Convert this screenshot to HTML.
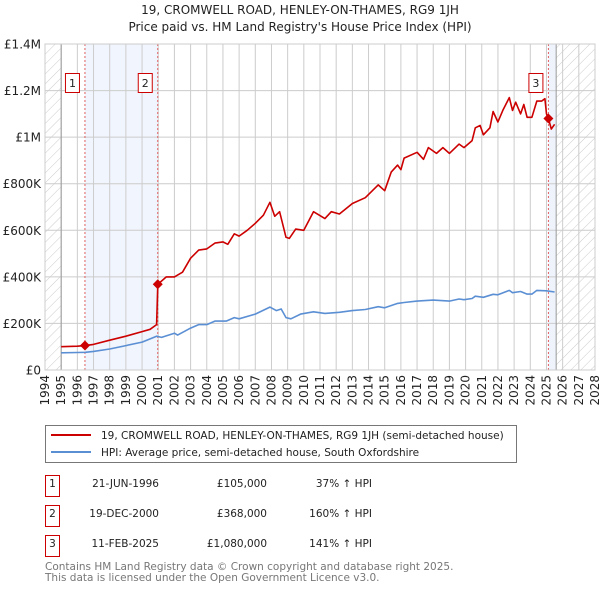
<!DOCTYPE html>
<html><head><meta charset="utf-8"><style>
body{margin:0;background:#fff;font-family:"DejaVu Sans","Liberation Sans",sans-serif;}
svg{display:block}
</style></head><body>
<svg width="600" height="590" viewBox="0 0 600 590" xmlns="http://www.w3.org/2000/svg" font-family="DejaVu Sans, Liberation Sans, sans-serif">
<defs>
<pattern id="hatch" width="7" height="7" patternUnits="userSpaceOnUse" patternTransform="rotate(45)">
<line x1="0" y1="0" x2="0" y2="7" stroke="#ccc" stroke-width="1"/></pattern>
</defs>
<text x="300" y="14" text-anchor="middle" font-size="12" fill="#222">19, CROMWELL ROAD, HENLEY-ON-THAMES, RG9 1JH</text>
<text x="300" y="31" text-anchor="middle" font-size="12" fill="#222">Price paid vs. HM Land Registry's House Price Index (HPI)</text>
<g id="plot"></g>
<g>
<rect x="45.5" y="425.5" width="471" height="37" fill="#fff" stroke="#777"/>
<line x1="51" y1="435" x2="91" y2="435" stroke="#cc0000" stroke-width="2"/>
<text x="101" y="439" font-size="10.5" fill="#222">19, CROMWELL ROAD, HENLEY-ON-THAMES, RG9 1JH (semi-detached house)</text>
<line x1="51" y1="452" x2="91" y2="452" stroke="#5b8fd4" stroke-width="2"/>
<text x="101" y="456" font-size="10.5" fill="#222">HPI: Average price, semi-detached house, South Oxfordshire</text>
</g>
<g font-size="10.5" fill="#222">
<rect x="45.5" y="475.5" width="14" height="21" fill="#fff" stroke="#cc0000"/><text x="52.5" y="487" text-anchor="middle">1</text>
<text x="159" y="487" text-anchor="end">21-JUN-1996</text><text x="267" y="487" text-anchor="end">£105,000</text><text x="372" y="487" text-anchor="end">37% ↑ HPI</text>
<rect x="45.5" y="505.5" width="14" height="21" fill="#fff" stroke="#cc0000"/><text x="52.5" y="517" text-anchor="middle">2</text>
<text x="159" y="517" text-anchor="end">19-DEC-2000</text><text x="267" y="517" text-anchor="end">£368,000</text><text x="372" y="517" text-anchor="end">160% ↑ HPI</text>
<rect x="45.5" y="535.5" width="14" height="21" fill="#fff" stroke="#cc0000"/><text x="52.5" y="547" text-anchor="middle">3</text>
<text x="159" y="547" text-anchor="end">11-FEB-2025</text><text x="267" y="547" text-anchor="end">£1,080,000</text><text x="372" y="547" text-anchor="end">141% ↑ HPI</text>
</g>
<text x="45" y="570" font-size="10.5" fill="#777">Contains HM Land Registry data © Crown copyright and database right 2025.</text>
<text x="45" y="581" font-size="10.5" fill="#777">This data is licensed under the Open Government Licence v3.0.</text>
</svg>
<script>
const yTicks=[0,200,400,600,800,1000,1200,1400];
const yTickLabels=["£0","£200K","£400K","£600K","£800K","£1M","£1.2M","£1.4M"];
const years=[1994,1995,1996,1997,1998,1999,2000,2001,2002,2003,2004,2005,2006,2007,2008,2009,2010,2011,2012,2013,2014,2015,2016,2017,2018,2019,2020,2021,2022,2023,2024,2025,2026,2027,2028];
const redX=[1995,1996,1996.47,1997,1998,1999,2000,2000.5,2000.9,2000.97,2001.5,2002,2002.5,2003,2003.5,2004,2004.5,2005,2005.3,2005.7,2006,2006.5,2007,2007.5,2007.9,2008.2,2008.5,2008.9,2009.1,2009.5,2010,2010.6,2011.3,2011.7,2012.2,2013,2013.8,2014.6,2015,2015.4,2015.8,2016,2016.2,2017,2017.4,2017.7,2018.2,2018.6,2019,2019.6,2019.9,2020.4,2020.6,2020.9,2021.1,2021.5,2021.7,2022,2022.3,2022.7,2022.9,2023.1,2023.4,2023.6,2023.8,2024.1,2024.4,2024.7,2024.9,2025.0,2025.12,2025.3,2025.5];
const redY=[100,102,105,110,128,145,165,175,195,368,400,400,420,480,515,520,545,550,540,585,575,600,630,665,720,660,680,570,565,605,600,680,650,680,670,715,740,795,770,850,880,860,910,935,905,955,930,955,930,970,955,985,1040,1050,1010,1040,1110,1065,1115,1170,1115,1150,1100,1140,1085,1085,1155,1155,1165,1100,1080,1035,1055];
const blueX=[1995,1996,1996.5,1997,1998,1999,2000,2000.9,2001.2,2002,2002.2,2003,2003.5,2004,2004.5,2005.2,2005.7,2006,2007,2007.9,2008.3,2008.6,2008.9,2009.2,2009.8,2010.6,2011.3,2012.2,2013,2013.8,2014.6,2015,2015.8,2016.2,2017,2018,2019,2019.6,2019.9,2020.4,2020.6,2021.1,2021.7,2022,2022.7,2022.9,2023.4,2023.8,2024.1,2024.4,2025,2025.5];
const blueY=[74,75,76,80,90,105,120,145,140,158,150,180,195,195,210,210,225,220,240,270,255,262,225,220,240,250,243,248,255,260,272,267,286,290,296,300,296,305,302,307,317,312,325,323,342,332,337,326,326,342,340,335];
const sales=[[1996.47,105,"1"],[2000.97,368,"2"],[2025.12,1080,"3"]];
const NS="http://www.w3.org/2000/svg";
const L=45,R=595,T=44,B=370,Y0=1994,Y1=2028,VMAX=1400,DATAEND=2025.6;
function xs(v){return L+(v-Y0)/(Y1-Y0)*(R-L);}
function ys(v){return B-v/VMAX*(B-T);}
const g=document.getElementById('plot');
function mk(t,a,p){const e=document.createElementNS(NS,t);for(const k in a)e.setAttribute(k,a[k]);(p||g).appendChild(e);return e;}
let e;
e=mk('rect',{x:L,y:T,width:R-L,height:B-T,fill:'#fff'});
e=mk('rect',{x:L,y:T,width:xs(1995)-L,height:B-T,fill:'url(#hatch)'});


e=mk('rect',{x:xs(DATAEND),y:T,width:R-xs(DATAEND),height:B-T,fill:'url(#hatch)'});


e=mk('rect',{x:xs(sales[0][0]),y:T,width:xs(sales[1][0])-xs(sales[0][0]),height:B-T,fill:'#eef3fc',opacity:0.8});


e=mk('rect',{x:xs(sales[2][0]),y:T,width:xs(DATAEND)-xs(sales[2][0]),height:B-T,fill:'#eef3fc'});


years.forEach(y=>{
 e=mk('line',{x1:xs(y),x2:xs(y),y1:T,y2:B,stroke:'#ccc','stroke-width':1});
 
 
 const tx=xs(y)+4;
 e=mk('text',{x:0,y:0,transform:`translate(${tx},${B+5}) rotate(-90)`,'text-anchor':'end','font-size':12,fill:'#222'});
 e.textContent=y;
 
 
});
yTicks.forEach((v,i)=>{
 e=mk('line',{x1:L,x2:R,y1:ys(v),y2:ys(v),stroke:'#ccc','stroke-width':1});
 
 
 e=mk('text',{x:L-4,y:ys(v)+4.5,'text-anchor':'end','font-size':12,fill:'#222'});
 e.textContent=yTickLabels[i];
 
 
});
e=mk('line',{x1:xs(1995),x2:xs(1995),y1:T,y2:B,stroke:'#999','stroke-width':1});
e=mk('line',{x1:xs(DATAEND),x2:xs(DATAEND),y1:T,y2:B,stroke:'#999','stroke-width':1});
sales.forEach(s=>{
 e=mk('line',{x1:xs(s[0]),x2:xs(s[0]),y1:T,y2:B,stroke:'#e06060','stroke-width':1,'stroke-dasharray':'2,2'});
 
 
});
function path(X,Yv,col,name){
 let d='';X.forEach((x,i)=>{d+=(i?'L':'M')+xs(x).toFixed(1)+','+ys(Yv[i]).toFixed(1);});
 e=mk('path',{d:d,fill:'none',stroke:col,'stroke-width':1.6,'stroke-linejoin':'round'});
 
 
}
path(blueX,blueY,'#5b8fd4','hpi-line');
path(redX,redY,'#cc0000','property-price-line');
sales.forEach(s=>{
 const cx=xs(s[0]),cy=ys(s[1]);
 e=mk('path',{d:`M${cx},${cy-5}L${cx+5},${cy}L${cx},${cy+5}L${cx-5},${cy}Z`,fill:'#cc0000'});
 
 
 e=mk('rect',{x:cx-19.5,y:73.5,width:14,height:19,fill:'#fff',stroke:'#cc0000'});
 
 
 e=mk('text',{x:cx-12.5,y:87,'text-anchor':'middle','font-size':11,fill:'#222'});
 e.textContent=s[2];
 
 
});
e=mk('rect',{x:L,y:T,width:R-L,height:B-T,fill:'none',stroke:'#ccc'});
</script>
</body></html>
